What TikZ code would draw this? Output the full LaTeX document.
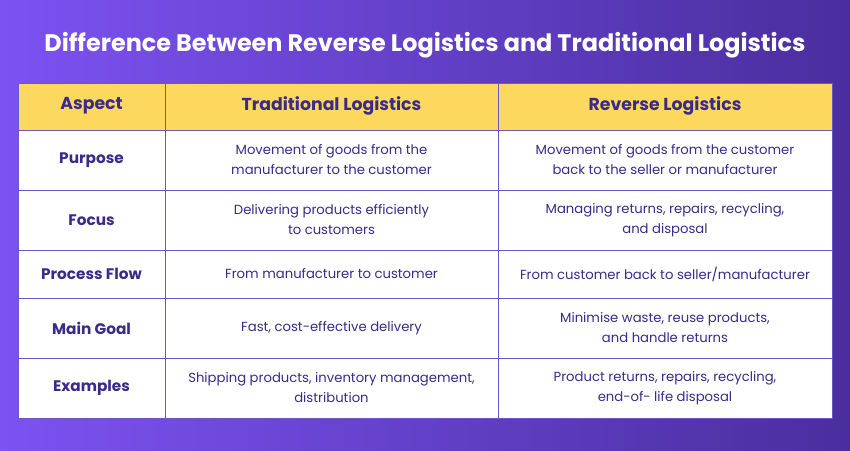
\documentclass[tikz,border=0pt]{standalone}
\usepackage{fontspec}
\setmainfont{Poppins}
\definecolor{bgleft}{HTML}{7C52F2}
\definecolor{bgright}{HTML}{4A2E9E}
\definecolor{headyellow}{HTML}{FDD85E}
\definecolor{inkpurple}{HTML}{3B2A8A}
\definecolor{gridline}{HTML}{6A58C8}
\tikzset{
  cell/.style = {align = center, text = inkpurple, font = \fontsize{13.2}{20}\selectfont},
  aspect/.style = {cell, font = \fontsize{15.3}{18}\selectfont\bfseries},
  head/.style = {cell, font = \fontsize{17.3}{20}\selectfont\bfseries}
}
\begin{document}
\begin{tikzpicture}[x = 1pt, y = -1pt]

  \shade[left color = bgleft, right color = bgright] (0, 0) rectangle (850, 450);
  \useasboundingbox (0, 0) rectangle (850, 450);

  \node[text = white, font = \fontsize{23.9}{28}\selectfont\bfseries] (title)
    at (425, 45) {Difference Between Reverse Logistics and Traditional Logistics};

  \fill[white] (18, 83) rectangle (832, 418);
  \fill[headyellow] (18, 83) rectangle (832, 130);

  \node[head] (h1) at (91.5, 106) {Aspect};
  \node[head] (h2) at (331.5, 106) {Traditional Logistics};
  \node[head] (h3) at (665, 106) {Reverse Logistics};

  \foreach \name/\yc/\trad/\rev [count = \r] in {
    Purpose/160/{Movement of goods from the\\manufacturer to the customer}/{Movement of goods from the customer\\back to the seller or manufacturer},
    Focus/220/{Delivering products efficiently\\to customers}/{Managing returns, repairs, recycling,\\and disposal},
    Process Flow/274/{From manufacturer to customer}/{From customer back to seller/manufacturer},
    Main Goal/328/{Fast, cost-effective delivery}/{Minimise waste, reuse products,\\and handle returns},
    Examples/388/{Shipping products, inventory management,\\distribution}/{Product returns, repairs, recycling,\\end-of- life disposal}} {
    \node[aspect] (a\r) at (91.5, \yc) {\name};
    \node[cell] (t\r) at (331.5, \yc) {\trad};
    \node[cell] (v\r) at (665, \yc) {\rev};
  }

  \foreach \y in {130, 190, 250, 298, 358}
    \draw[gridline, line width = 0.8] (18, \y) -- (832, \y);
  \foreach \x in {165, 498}
    \draw[gridline, line width = 0.8] (\x, 83) -- (\x, 418);
  \draw[gridline, line width = 0.8] (18, 83) rectangle (832, 418);

\end{tikzpicture}
\end{document}
